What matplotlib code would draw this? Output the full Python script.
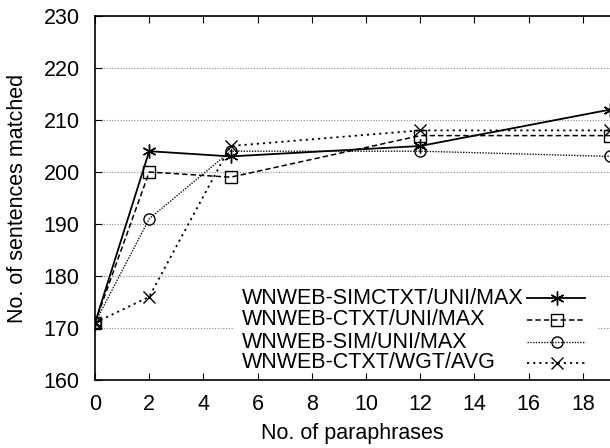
import matplotlib
matplotlib.use("Agg")
import matplotlib.pyplot as plt
from matplotlib.patches import Rectangle
from matplotlib.lines import Line2D

plt.rcParams['font.family'] = ['Liberation Sans', 'DejaVu Sans']

x_vals = [0, 2, 5, 12, 19]
simctxt_uni_max = [171, 204, 203, 205, 212]
ctxt_uni_max = [171, 200, 199, 207, 207]
sim_uni_max = [171, 191, 204, 204, 203]
ctxt_wgt_avg = [171, 176, 205, 208, 208]

labels = ["WNWEB-SIMCTXT/UNI/MAX", "WNWEB-CTXT/UNI/MAX",
          "WNWEB-SIM/UNI/MAX", "WNWEB-CTXT/WGT/AVG"]
series = [simctxt_uni_max, ctxt_uni_max, sim_uni_max, ctxt_wgt_avg]

x_ticks = list(range(0, 19, 2))
y_ticks = list(range(160, 231, 10))

FS = 15.5
W, H = 610, 448
fig = plt.figure(figsize=(W / 100, H / 100), dpi=100)
ax = fig.add_axes([95 / W, (H - 380) / H, 515 / W, 364 / H])

styles = [
    dict(color='black', linestyle='-', linewidth=1.3, marker=(6, 2, 0),
         markersize=10, markeredgewidth=1.0),
    dict(color='black', linestyle=(0, (3.5, 2)), linewidth=1.1, marker='s',
         markersize=8, markerfacecolor='none', markeredgewidth=1.0),
    dict(color='#111111', linestyle=(0, (1, 1)), linewidth=1.0, marker='o',
         markersize=8, markerfacecolor='none', markeredgewidth=1.0, markeredgecolor='black'),
    dict(color='black', linestyle=(0, (1.2, 2.2)), linewidth=1.3, marker='x',
         markersize=9, markeredgewidth=1.0),
]

for ys, st in zip(series, styles):
    ax.plot(x_vals, ys, zorder=3, **st)

ax.set_xlim(0, 19)
ax.set_ylim(160, 230)
ax.set_xticks(x_ticks)
ax.set_yticks(y_ticks)
ax.tick_params(direction='in', length=5, width=0.8, labelsize=FS,
               top=True, right=False)
ax.tick_params(axis='x', pad=10)
ax.tick_params(axis='y', pad=11)
ax.yaxis.grid(True, color='#888888', linestyle=(0, (1, 1.5)), linewidth=0.8)
ax.set_axisbelow(True)
for s in ['left', 'bottom', 'top']:
    ax.spines[s].set_linewidth(1.2)
ax.spines['right'].set_visible(False)

ax.set_xlabel("No. of paraphrases", fontsize=FS, labelpad=6)
ax.set_ylabel("No. of sentences matched", fontsize=FS, labelpad=11)

# manual gnuplot-style legend
ax.add_patch(Rectangle((0.27, 0.025), 0.705, 0.225, transform=ax.transAxes,
                       facecolor='white', edgecolor='none', zorder=2))
row_y = [0.225, 0.165, 0.104, 0.047]
for lab, st, yy in zip(labels, styles, row_y):
    ax.text(0.285, yy, lab, transform=ax.transAxes, fontsize=FS,
            ha='left', va='center', zorder=4)
    line_kw = {k: v for k, v in st.items() if not k.startswith('marker')}
    ax.add_line(Line2D([0.839, 0.951], [yy, yy], transform=ax.transAxes,
                       zorder=4, **line_kw))
    mk_kw = {k: v for k, v in st.items() if k.startswith('marker') and k != 'marker'}
    ax.add_line(Line2D([0.897], [yy], transform=ax.transAxes, linestyle='none',
                       marker=st['marker'], zorder=5, color=st['color'], **mk_kw))

fig.savefig("out.png", dpi=100)
